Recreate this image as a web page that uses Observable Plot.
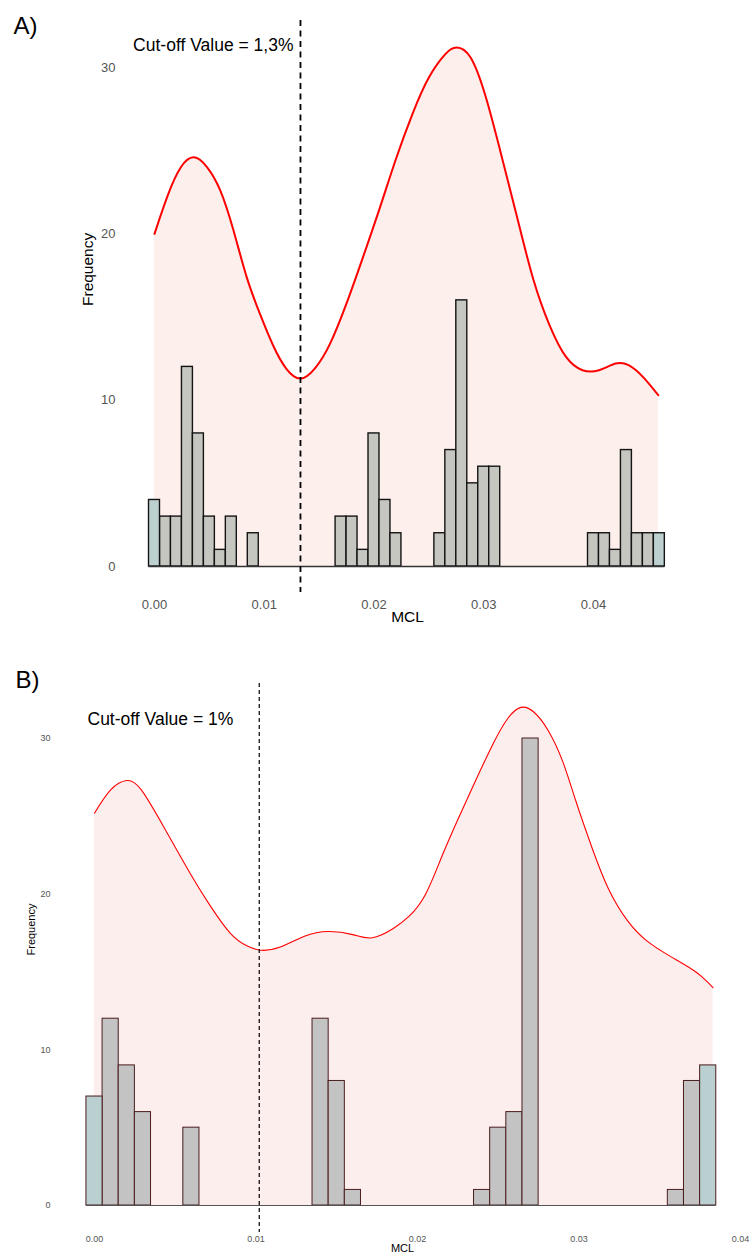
<!DOCTYPE html>
<html>
<head>
<meta charset="utf-8">
<script src="https://cdn.jsdelivr.net/npm/d3@7"></script>
<script src="https://cdn.jsdelivr.net/npm/@observablehq/plot@0.6"></script>
<style>
  body { margin: 0; background: #fff; }
  #wrap { width: 750px; }
  #wrap svg { display: block; overflow: visible; }
</style>
</head>
<body>
<div id="wrap"></div>
<script>
// ---------- shared ----------
const xTicks = [0, 0.01, 0.02, 0.03, 0.04];
const yTicks = [0, 10, 20, 30];
const binWidth = 0.001;

// ---------- Panel A ----------
const panelA = "A)";
const cutA = 0.0133;
const cutLabelA = "Cut-off Value = 1,3%";
// counts per bin, bin i centred at i * 0.001
const countsA = [4, 3, 3, 12, 8, 3, 1, 3, 0, 2,
                 0, 0, 0, 0, 0, 0, 0, 3, 3, 1,
                 8, 4, 2, 0, 0, 0, 2, 7, 16, 5,
                 6, 6, 0, 0, 0, 0, 0, 0, 0, 0,
                 2, 2, 1, 7, 2, 2, 2];
const densAx = [0, 0.0012, 0.0024, 0.0036, 0.0048, 0.0060, 0.0072, 0.0084, 0.0096, 0.0108, 0.0120, 0.0133,
                0.0146, 0.0160, 0.0176, 0.0190, 0.0205, 0.0220, 0.0235, 0.0250, 0.0265, 0.0275,
                0.0288, 0.0302, 0.0315, 0.0330, 0.0345, 0.0360, 0.0375, 0.0390, 0.0405, 0.0420,
                0.0432, 0.0445, 0.0459];
const densAy = [20.0, 22.3, 24.0, 24.6, 24.0, 22.6, 20.2, 17.4, 15.2, 13.3, 11.9, 11.3,
                11.9, 13.4, 16.0, 18.6, 21.5, 24.5, 27.2, 29.4, 30.8, 31.2,
                30.6, 28.2, 25.0, 21.1, 17.3, 14.5, 12.6, 11.8, 11.8, 12.2,
                12.1, 11.4, 10.3];

// ---------- Panel B ----------
const panelB = "B)";
const cutB = 0.0102;
const cutLabelB = "Cut-off Value = 1%";
const countsB = [7, 12, 9, 6, 0, 0, 5, 0, 0, 0,
                 0, 0, 0, 0, 12, 8, 1, 0, 0, 0,
                 0, 0, 0, 0, 1, 5, 6, 30, 0, 0,
                 0, 0, 0, 0, 0, 0, 1, 8, 9];
const densBx = [0, 0.0010, 0.0020, 0.0029, 0.0043, 0.0060, 0.0072, 0.0084, 0.0094, 0.0103,
                0.0115, 0.0130, 0.0145, 0.0160, 0.0172, 0.0185, 0.0195, 0.0205, 0.0215, 0.0225,
                0.0236, 0.0247, 0.0256, 0.0264, 0.0272, 0.0281, 0.0290, 0.0298, 0.0308, 0.0318,
                0.0330, 0.0342, 0.0355, 0.0368, 0.0376, 0.0383];
const densBy = [25.2, 26.7, 27.3, 26.7, 24.3, 21.2, 19.2, 17.5, 16.7, 16.4,
                16.6, 17.3, 17.6, 17.4, 17.2, 17.8, 18.6, 20.0, 22.4, 24.8,
                27.3, 29.7, 31.3, 32.0, 31.7, 30.5, 28.5, 26.0, 23.0, 20.4,
                18.3, 17.0, 16.1, 15.3, 14.7, 14.0];

const font = "'Liberation Sans', Arial, Helvetica, sans-serif";

function makeBins(counts) {
  return counts.map((c, i) => ({
    x1: (i - 0.5) * binWidth,
    x2: (i + 0.5) * binWidth,
    count: c,
    edge: i === 0 || i === counts.length - 1
  }));
}

function panel(cfg) {
  const bins = makeBins(cfg.counts);
  const nonzero = bins.filter(d => d.count > 0);
  const dens = cfg.dx.map((x, i) => ({x, y: cfg.dy[i]}));
  return Plot.plot({
    width: 750,
    height: cfg.height,
    marginTop: cfg.mt,
    marginBottom: cfg.mb,
    marginLeft: cfg.ml,
    marginRight: cfg.mr,
    style: {fontFamily: font, background: "#fff", overflow: "visible"},
    x: {domain: [0, 0.04]},
    y: {domain: [0, 30]},
    marks: [
      Plot.areaY(dens, {x: "x", y: "y", fill: cfg.shade, curve: "natural"}),
      Plot.lineY(dens, {x: "x", y: "y", stroke: "#ff0000", strokeWidth: cfg.lw, curve: "natural"}),
      Plot.rectY(nonzero.filter(d => !d.edge), {x1: "x1", x2: "x2", y: "count",
        fill: cfg.barFill, stroke: cfg.barStroke, strokeWidth: cfg.bw}),
      Plot.rectY(nonzero.filter(d => d.edge), {x1: "x1", x2: "x2", y: "count",
        fill: cfg.edgeFill, stroke: cfg.barStroke, strokeWidth: cfg.bw}),
      Plot.ruleY([0], {x1: bins[0].x1, x2: bins[bins.length - 1].x2, stroke: cfg.baseStroke, strokeWidth: cfg.bw}),
      Plot.ruleX([cfg.cut], {stroke: "#000", strokeWidth: cfg.dw, strokeDasharray: cfg.dash,
        insetTop: cfg.dTop, insetBottom: cfg.dBottom}),
      Plot.axisX({ticks: xTicks, tickFormat: d3.format(".2f"), tickSize: 0, tickPadding: cfg.xpad,
        fontSize: cfg.tickFs, fill: "#555", label: null}),
      Plot.axisY({ticks: yTicks, tickFormat: d3.format("d"), tickSize: 0, tickPadding: cfg.ypad,
        fontSize: cfg.tickFs, fill: "#555", label: null}),
      Plot.text(["Frequency"], {text: d => d, frameAnchor: "left", rotate: -90,
        dx: cfg.fqDx, dy: cfg.fqDy, fontSize: cfg.titleFs, fill: "#000"}),
      Plot.text(["MCL"], {text: d => d, frameAnchor: "bottom",
        dx: cfg.mclDx, dy: cfg.mclDy, fontSize: cfg.titleFs, fill: "#000"}),
      cfg.cutText,
      Plot.text([cfg.panelLabel], {text: d => d, frameAnchor: "top-left", textAnchor: "start",
        lineAnchor: "middle", dx: cfg.plDx, dy: cfg.plDy, fontSize: 24, fill: "#000"})
    ]
  });
}

const svgA = panel({
  height: 630, mt: 67, mb: 64, ml: 154, mr: 157,
  counts: countsA, dx: densAx, dy: densAy, cut: cutA,
  shade: "#fdf0ec", lw: 2, barFill: "#c6c6c1", edgeFill: "#bdd0d0",
  barStroke: "#141414", baseStroke: "#333", bw: 1.4,
  dw: 1.8, dash: "6,4.5", dTop: -47, dBottom: -26,
  xpad: 33, ypad: 39, tickFs: 13, titleFs: 15.5,
  fqDx: -66, fqDy: -11, mclDx: 33.5, mclDy: 55,
  panelLabel: panelA, plDx: -141, plDy: -41,
  cutText: Plot.text([cutA], {x: d => d, text: () => cutLabelA, frameAnchor: "top",
    textAnchor: "end", lineAnchor: "middle", dx: -7, dy: -22, fontSize: 17.5, fill: "#000"})
});

const svgB = panel({
  height: 625, mt: 108, mb: 50, ml: 94, mr: 10,
  counts: countsB, dx: densBx, dy: densBy, cut: cutB,
  shade: "#fdeeee", lw: 1.1, barFill: "#c3c3c3", edgeFill: "#bacfd0",
  barStroke: "#4a1c1c", baseStroke: "#555", bw: 1,
  dw: 1.2, dash: "4,3", dTop: -55, dBottom: -27,
  xpad: 30, ypad: 44, tickFs: 9, titleFs: 11,
  fqDx: -63, fqDy: -16.5, mclDx: -15, mclDy: 46.5,
  panelLabel: panelB, plDx: -79, plDy: -58,
  cutText: Plot.text([cutLabelB], {text: d => d, frameAnchor: "top-left",
    textAnchor: "start", lineAnchor: "middle", dx: -7, dy: -19, fontSize: 17.5, fill: "#000"})
});

document.getElementById("wrap").append(svgA, svgB);
</script>
</body>
</html>
